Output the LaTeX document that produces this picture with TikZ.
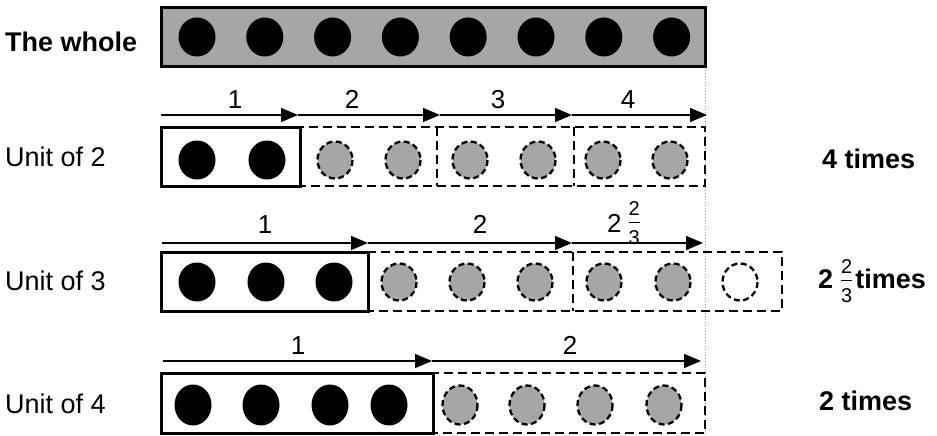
\documentclass[tikz,border=0pt]{standalone}
\usepackage{amsmath}
\usepackage{fontspec}
\setmainfont{Liberation Sans}
\definecolor{bead}{HTML}{A6A6A6}
\definecolor{guidegray}{HTML}{9A9A9A}
\usetikzlibrary{arrows.meta}
\tikzset{
  >={Triangle[length=17pt,width=14pt]},
  arr/.style={->,draw=black,line width=1.4pt},
  unitbox/.style={draw=black,line width=3pt},
  restbox/.style={draw=black,line width=2.8pt,dash pattern=on 9pt off 5pt},
  fullbead/.style={fill=black},
  restbead/.style={fill=bead,draw=black,line width=2.3pt,dash pattern=on 6pt off 3.5pt},
  gapbead/.style={fill=white,draw=black,line width=2.3pt,dash pattern=on 6pt off 3.5pt},
  lab/.style={anchor=base west,inner sep=0pt,font=\fontsize{27}{30}\selectfont},
  blab/.style={lab,font=\fontsize{27}{30}\selectfont\bfseries},
  num/.style={anchor=base,inner sep=0pt,font=\fontsize{26}{28}\selectfont},
  guide/.style={draw=guidegray,line width=1pt,dotted},
}
% stacked fraction: #1 = drop of the denominator baseline
\newcommand{\smallfrac}[3]{\raisebox{#1}{\fontsize{20}{20}\mdseries\selectfont\vbox{\offinterlineskip
  \halign{\hfil##\hfil\cr #2\cr\noalign{\kern7pt}\rule{11pt}{1pt}\cr\noalign{\kern7pt}#3\cr}}}}

\begin{document}
\begin{tikzpicture}[x=1pt,y=-1pt]
\useasboundingbox (0,0) rectangle (937,436);
% guide line at the end of the whole
\coordinate (gtop) at (705,67); \coordinate (gbot) at (705,436);
\draw[guide] (gtop) -- (gbot);

% the whole
\draw[line width=3pt,fill=bead] (161,8) rectangle (705,67);
\foreach \k in {0,...,7} \fill[fullbead] (197+67.8*\k,37) circle [x radius=18.5,y radius=19.5];
\node[blab] (whole) at (5,52) {The whole};

% unit of 2
\draw[restbox] (300,127) rectangle (705,186);
\draw[restbox] (437,127) -- (437,186); \draw[restbox] (574,127) -- (574,186);
\draw[unitbox] (161,127) rectangle (300,186);
\foreach \x in {197,267} \fill[fullbead] (\x,160) circle [x radius=18.5,y radius=19.5];
\foreach \x in {335,403,470,538,603,670} \draw[restbead] (\x,160) circle [x radius=17.5,y radius=18.5];
\foreach \i/\x in {0/161,1/298,2/440,3/572,4/707} \coordinate (p\i) at (\x,115);
\foreach \i [count=\j] in {0,...,3} \draw[arr] (p\i) -- (p\j);
\node[num] (two1) at (235,108) {1}; \node[num] (two2) at (352,108) {2};
\node[num] (two3) at (498,108) {3}; \node[num] (two4) at (628,108) {4};
\node[lab] (unit2) at (5,166) {Unit of 2};
\node[blab] (times2) at (822,168) {4 times};

% unit of 3
\draw[restbox] (368,252) rectangle (782,311);
\draw[restbox] (573,252) -- (573,311);
\draw[unitbox] (161,252) rectangle (368,311);
\foreach \x in {197,266,334} \fill[fullbead] (\x,282) circle [x radius=18.5,y radius=19.5];
\foreach \x in {399,467,535,604,673} \draw[restbead] (\x,282) circle [x radius=17.5,y radius=18.5];
\draw[gapbead] (740,282) circle [x radius=17.5,y radius=18.5];
\foreach \i/\x in {0/162,1/368,2/572,3/703} \coordinate (q\i) at (\x,243);
\foreach \i [count=\j] in {0,...,2} \draw[arr] (q\i) -- (q\j);
\node[num] (three1) at (265,233) {1}; \node[num] (three2) at (480,233) {2};
\node[num,anchor=base west] (three3) at (607,232) {2\hspace{7pt}\smallfrac{-12pt}{2}{3}};
\node[lab] (unit3) at (5,290) {Unit of 3};
\node[blab] (times3) at (818,288) {2\hspace{8pt}\smallfrac{-14pt}{2}{3}\hspace{3pt}times};

% unit of 4
\draw[restbox] (433,373) rectangle (705,433);
\draw[unitbox] (161,373) rectangle (433,433);
\foreach \x in {193,261,330,389} \fill[fullbead] (\x,405) circle [x radius=18.5,y radius=20.5];
\foreach \x in {460,527,595,664} \draw[restbead] (\x,405) circle [x radius=17.5,y radius=19.5];
\foreach \i/\x in {0/163,1/432,2/701} \coordinate (r\i) at (\x,361);
\foreach \i [count=\j] in {0,1} \draw[arr] (r\i) -- (r\j);
\node[num] (four1) at (298,354) {1}; \node[num] (four2) at (570,354) {2};
\node[lab] (unit4) at (5,413) {Unit of 4};
\node[blab] (times4) at (819,410) {2 times};
\end{tikzpicture}
\end{document}
